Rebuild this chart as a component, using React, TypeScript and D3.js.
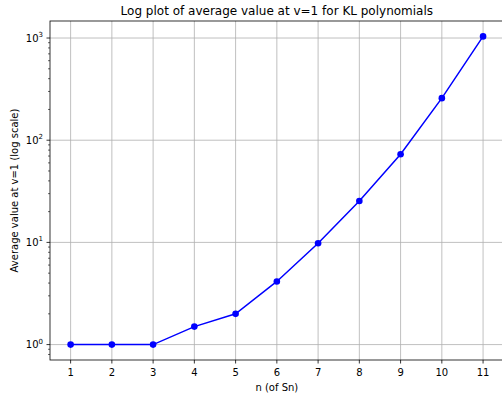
import React from "react";
import * as d3 from "d3";

const nValues = [1, 2, 3, 4, 5, 6, 7, 8, 9, 10, 11];
const avgValues = [1, 1, 1, 1.5, 2, 4.15, 9.8, 25.4, 73, 258, 1037];
const xTicks = [1, 2, 3, 4, 5, 6, 7, 8, 9, 10, 11];
const yTickExps = [0, 1, 2, 3];

const W = 502;
const H = 400;
const left = 50;
const right = 503.7;
const top = 21;
const bottom = 360;
const font = "DejaVu Sans, sans-serif";

export default function App() {
  const xs = d3.extent(nValues) as [number, number];
  const xPad = (xs[1] - xs[0]) * 0.05;
  const x = d3.scaleLinear().domain([xs[0] - xPad, xs[1] + xPad]).range([left, right]);

  const lmin = Math.log10(d3.min(avgValues) as number);
  const lmax = Math.log10(d3.max(avgValues) as number);
  const lPad = (lmax - lmin) * 0.05;
  const y = d3
    .scaleLog()
    .domain([Math.pow(10, lmin - lPad), Math.pow(10, lmax + lPad)])
    .range([bottom, top]);

  const [d0, d1] = y.domain();
  const minor: number[] = [];
  for (let e = Math.floor(Math.log10(d0)); e <= Math.ceil(Math.log10(d1)); e++) {
    for (let k = 2; k <= 9; k++) {
      const v = k * Math.pow(10, e);
      if (v >= d0 && v <= d1) minor.push(v);
    }
  }

  const pts = nValues.map((n, i) => [x(n), y(avgValues[i])] as [number, number]);
  const line = d3.line()(pts) as string;

  return (
    <svg width={W} height={H} style={{ position: "absolute", left: 0, top: 0, background: "#fff" }}>
      <defs>
        <clipPath id="plotclip">
          <rect x={left} y={top} width={right - left} height={bottom - top} />
        </clipPath>
      </defs>
      <rect x={0} y={0} width={W} height={H} fill="#fff" />
      {/* grid */}
      {xTicks.map((t) => (
        <line key={"gx" + t} x1={x(t)} x2={x(t)} y1={top} y2={bottom} stroke="#b0b0b0" strokeWidth={0.8} />
      ))}
      {yTickExps.map((e) => (
        <line key={"gy" + e} x1={left} x2={right} y1={y(Math.pow(10, e))} y2={y(Math.pow(10, e))} stroke="#b0b0b0" strokeWidth={0.8} />
      ))}
      {/* data */}
      <g clipPath="url(#plotclip)">
        <path d={line} fill="none" stroke="#0000ff" strokeWidth={1.5} />
        {pts.map((p, i) => (
          <circle key={"pt" + i} cx={p[0]} cy={p[1]} r={3.3} fill="#0000ff" />
        ))}
      </g>
      {/* spines */}
      <rect x={left} y={top} width={right - left} height={bottom - top} fill="none" stroke="#000" strokeWidth={0.8} />
      {/* x ticks */}
      {xTicks.map((t) => (
        <g key={"xt" + t}>
          <line x1={x(t)} x2={x(t)} y1={bottom} y2={bottom + 3.5} stroke="#000" strokeWidth={0.8} />
          <text x={x(t)} y={bottom + 15.5} textAnchor="middle" fontFamily={font} fontSize={10} fill="#000">
            {t}
          </text>
        </g>
      ))}
      {/* y ticks */}
      {yTickExps.map((e) => (
        <g key={"yt" + e}>
          <line x1={left - 3.5} x2={left} y1={y(Math.pow(10, e))} y2={y(Math.pow(10, e))} stroke="#000" strokeWidth={0.8} />
          <text x={left - 7} y={y(Math.pow(10, e)) + 3.5} textAnchor="end" fontFamily={font} fontSize={10} fill="#000">
            10<tspan dy={-4.5} fontSize={7}>{e}</tspan>
          </text>
        </g>
      ))}
      {minor.map((v, i) => (
        <line key={"mn" + i} x1={left - 2} x2={left} y1={y(v)} y2={y(v)} stroke="#000" strokeWidth={0.6} />
      ))}
      {/* labels */}
      <text x={(left + right) / 2} y={15} textAnchor="middle" fontFamily={font} fontSize={12} fill="#000">
        Log plot of average value at v=1 for KL polynomials
      </text>
      <text x={(left + right) / 2} y={391} textAnchor="middle" fontFamily={font} fontSize={10} fill="#000">
        n (of Sn)
      </text>
      <text
        transform={`translate(18, ${(top + bottom) / 2}) rotate(-90)`}
        textAnchor="middle"
        fontFamily={font}
        fontSize={10}
        fill="#000"
      >
        Average value at v=1 (log scale)
      </text>
    </svg>
  );
}
